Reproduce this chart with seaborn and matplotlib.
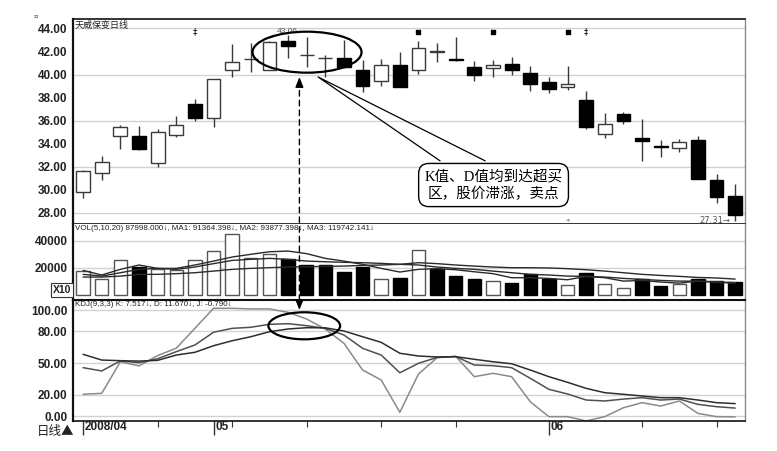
import numpy as np
import pandas as pd
import matplotlib
matplotlib.use("Agg")
import matplotlib.pyplot as plt
import seaborn as sns
from matplotlib.patches import Ellipse, ConnectionPatch
from matplotlib.transforms import blended_transform_factory

# ---- data (36 trading days, 2008/04 - 2008/06) ----
opens = [29.77, 31.42, 34.66, 34.66, 32.29, 34.77, 37.44, 36.20, 40.39, 41.33, 40.39, 42.94,
         41.68, 41.40, 41.41, 40.39, 39.46, 40.83, 40.39, 41.96, 41.34, 40.68, 40.54, 40.92,
         40.11, 39.35, 38.94, 37.79, 34.81, 36.57, 34.49, 33.76, 33.59, 34.31, 30.84, 29.47]
highs = [31.70, 32.92, 35.62, 35.53, 35.27, 36.40, 37.87, 39.65, 42.65, 42.77, 42.88, 43.40,
         43.29, 41.70, 43.00, 41.26, 41.32, 41.98, 42.94, 42.77, 43.24, 41.20, 41.26, 41.50,
         40.74, 39.76, 40.74, 38.60, 36.63, 36.77, 36.14, 34.31, 34.37, 34.66, 31.36, 30.49]
lows = [29.27, 30.84, 33.50, 33.45, 31.99, 34.57, 35.99, 35.44, 39.79, 40.25, 40.35, 41.41,
        40.68, 39.81, 40.60, 38.51, 39.03, 38.90, 40.05, 41.12, 41.20, 39.46, 39.76, 39.96,
        38.60, 38.37, 38.66, 35.24, 34.46, 35.70, 32.51, 32.81, 33.30, 30.90, 28.87, 27.31]
closes = [31.65, 32.38, 35.42, 33.50, 35.03, 35.59, 36.22, 39.61, 41.12, 41.37, 42.85, 42.50,
          41.72, 41.43, 40.68, 39.00, 40.83, 38.94, 42.28, 42.00, 41.28, 39.96, 40.83, 40.39,
          39.18, 38.77, 39.18, 35.47, 35.70, 35.96, 34.20, 33.70, 34.14, 30.95, 29.39, 27.80]

volumes = [17300, 11600, 25900, 20200, 19300, 18500, 25400, 32100, 44900, 27200, 30400, 26400,
           22200, 21700, 16500, 20500, 11900, 12400, 32800, 19000, 13600, 11600, 10400, 8700,
           15600, 11600, 6900, 16100, 8200, 5000, 11600, 6700, 8200, 11900, 9900, 9100]
vol_up = [1, 1, 1, 0, 1, 1, 1, 1, 1, 1, 1, 0, 0, 0, 0, 0, 1, 0,
          1, 0, 0, 0, 1, 0, 0, 0, 1, 0, 1, 1, 0, 0, 1, 0, 0, 0]
vol_ma5 = [18000, 14600, 18800, 22000, 19500, 19500, 22000, 24900, 27900, 29900, 31800, 32300,
           30400, 26900, 24900, 22500, 19500, 16800, 18800, 19300, 18500, 17000, 15600, 12600,
           12600, 12100, 11100, 13600, 12600, 10100, 10600, 9400, 8600, 10100, 9100, 8600]
vol_ma10 = [15100, 13800, 16300, 18800, 19500, 18800, 20500, 23000, 25400, 26200, 26900, 26200,
            24900, 24400, 24000, 23700, 23200, 22500, 22000, 20500, 19500, 18800, 17500, 16300,
            15100, 14600, 13800, 13600, 13100, 12100, 11400, 10600, 10100, 10100, 9600, 8900]
vol_ma20 = [13100, 13100, 13800, 15100, 15100, 15600, 16300, 17500, 18800, 19500, 20000, 20500,
            20700, 21000, 21200, 21700, 22000, 22500, 23700, 23000, 22000, 21200, 20500, 20000,
            20000, 19800, 19300, 18500, 17500, 16300, 15100, 14300, 13600, 12800, 12400, 11600]

k_vals = [45.6, 42.5, 52.0, 50.3, 54.0, 60.7, 67.0, 79.0, 82.7, 83.7, 86.5, 87.1,
          85.2, 82.7, 76.4, 63.9, 57.5, 40.8, 49.7, 55.3, 56.1, 48.1, 47.5, 45.6,
          35.6, 25.2, 20.8, 15.1, 14.2, 16.0, 17.3, 15.1, 16.0, 11.0, 8.8, 7.5]
d_vals = [58.2, 52.8, 52.2, 51.8, 52.5, 57.5, 60.1, 66.3, 71.0, 74.8, 79.5, 82.1,
          83.3, 83.2, 80.2, 74.8, 69.5, 59.2, 56.6, 55.7, 56.0, 53.5, 51.2, 49.3,
          43.4, 37.1, 31.8, 26.1, 22.0, 20.5, 18.9, 17.3, 17.3, 15.1, 12.6, 11.7]
j_vals = [20.5, 21.4, 51.2, 47.3, 57.0, 64.0, 82.7, 101.6, 101.6, 101.0, 101.0, 97.8,
          91.5, 82.0, 68.6, 43.4, 34.0, 3.5, 39.6, 55.0, 56.3, 37.1, 40.3, 37.1,
          13.5, -0.6, -0.6, -4.6, -0.6, 7.8, 12.6, 9.4, 14.2, 2.5, -0.6, -0.8]

month_ticks = [0, 7, 25]
month_labels = ["2008/04", "05", "06"]
minor_ticks = [4, 8, 12, 16, 20, 30, 34]

signal_sq = [18, 22, 26]
signal_dd = [6, 27]

title_txt = "天威保变日线"
vol_txt = "VOL(5,10,20) 87998.000↓, MA1: 91364.398↓, MA2: 93877.398↓, MA3: 119742.141↓"
kdj_txt = "KDJ(9,3,3) K: 7.517↓, D: 11.670↓, J: -0.790↓"
note_txt = "K值、D值均到达超买\n区，股价滞涨，卖点"

df = pd.DataFrame({"i": np.arange(len(opens)), "open": opens, "high": highs, "low": lows,
                   "close": closes, "vol": volumes, "up": vol_up,
                   "ma5": vol_ma5, "ma10": vol_ma10, "ma20": vol_ma20,
                   "K": k_vals, "D": d_vals, "J": j_vals})

sns.set_theme(style="white")
plt.rcParams["font.family"] = ["DejaVu Sans", "Noto Sans CJK SC"]
narrow = ["Liberation Sans Narrow", "Liberation Sans", "DejaVu Sans"]
cjk = ["Noto Sans CJK SC", "DejaVu Sans"]

fig = plt.figure(figsize=(7.77, 4.51), dpi=100)
L, W = 0.094, 0.8649
ax1 = fig.add_axes([L, 0.5027, W, 0.4541])
ax2 = fig.add_axes([L, 0.3359, W, 0.1668], sharex=ax1)
ax3 = fig.add_axes([L, 0.0665, W, 0.2694], sharex=ax1)

grid_c = "#d2d2d2"
for ax in (ax1, ax2, ax3):
    ax.set_facecolor("white")
    for s in ax.spines.values():
        s.set_color("#111111")
        s.set_linewidth(1.2)
    ax.spines["right"].set_color("#8a8a8a")
    ax.spines["right"].set_linewidth(1.0)
    ax.spines["left"].set_linewidth(1.6)
    ax.tick_params(axis="y", which="major", length=3, width=0.8, color="#222",
                   labelsize=8.5, labelcolor="#222", pad=1)
    ax.tick_params(axis="y", which="minor", length=2, width=0.6, color="#444")

# ---- price panel ----
for g in [28, 32, 36, 40, 44]:
    ax1.axhline(g, color=grid_c, lw=1, zorder=0)
up = df["close"] >= df["open"]
ax1.vlines(df["i"], df["low"], df["high"], color="#3a3a3a", lw=1, zorder=2)
body = (df["close"] - df["open"]).abs().clip(lower=0.04)
ax1.bar(df["i"][up], body[up], bottom=df[["open", "close"]].min(axis=1)[up], width=0.74,
        color="white", edgecolor="#3a3a3a", lw=1, zorder=3)
ax1.bar(df["i"][~up], body[~up], bottom=df[["open", "close"]].min(axis=1)[~up], width=0.74,
        color="black", edgecolor="black", lw=1, zorder=3)
ax1.set_ylim(26.99, 44.78)
ax1.set_yticks(np.arange(28, 44.1, 2))
ax1.set_yticklabels([f"{v:.2f}" for v in np.arange(28, 44.1, 2)], fontweight="bold",
                    family=narrow)
ax1.set_yticks(np.arange(27.5, 44.6, 0.5), minor=True)
ax1.tick_params(axis="x", which="both", bottom=False, labelbottom=False)
ax1.text(0.003, 0.992, title_txt, transform=ax1.transAxes, va="top", ha="left",
         fontsize=6.5, family=cjk, color="#222")
ax1.scatter(signal_sq, [43.7] * len(signal_sq), marker="s", s=7, color="black", zorder=4)
for s in signal_dd:
    ax1.text(s, 43.7, "‡", ha="center", va="center", fontsize=6, color="black")
ax1.annotate("43.06", xy=(10.0, 43.15), xytext=(10.4, 43.72), fontsize=6, color="#555",
             va="center", family=narrow,
             arrowprops=dict(arrowstyle="-", lw=0.6, color="#555", shrinkA=0, shrinkB=0))
ax1.text(34.75, 27.33, "27.31→", ha="right", va="center", fontsize=6, color="#555",
         family=["DejaVu Sans"], zorder=5)
ax1.text(26.0, 27.35, "◂", ha="center", va="center", fontsize=5, color="#999")

ax1.add_patch(Ellipse((12.02, 41.94), 5.85, 3.56, fill=False, ec="black", lw=1.6, zorder=6))
ax1.plot([19.16, 12.61, 21.58], [32.5, 39.79, 32.5], color="black", lw=0.9, zorder=5)
ax1.text(22.03, 30.40, note_txt, ha="center", va="center", fontsize=10.5, linespacing=1.3,
         family=["Liberation Serif", "Noto Sans CJK SC"], color="black", zorder=7,
         bbox=dict(boxstyle="round,pad=0.4,rounding_size=0.7", fc="white", ec="black", lw=1))

# ---- volume panel ----
for g in [20000, 40000]:
    ax2.axhline(g, color=grid_c, lw=1, zorder=0)
vu = df["up"] == 1
ax2.bar(df["i"][vu], df["vol"][vu], width=0.72, color="white", edgecolor="#555", lw=1,
        zorder=2)
ax2.bar(df["i"][~vu], df["vol"][~vu], width=0.72, color="black", edgecolor="black", lw=1,
        zorder=2)
for col in ["ma20", "ma10", "ma5"]:
    sns.lineplot(data=df, x="i", y=col, ax=ax2, color="#2a2a2a", linewidth=1, zorder=3,
                 legend=False)
ax2.set_ylim(-3500, 52100)
ax2.set_yticks([20000, 40000])
ax2.set_yticklabels(["20000", "40000"], fontweight="bold", family=narrow)
ax2.set_xlabel("")
ax2.set_ylabel("")
ax2.tick_params(axis="x", which="both", bottom=False, labelbottom=False)
ax2.spines["top"].set_visible(False)
ax2.text(0.003, 0.99, vol_txt, transform=ax2.transAxes, va="top", ha="left",
         fontsize=5.8, family=narrow, color="#222")

# ---- KDJ panel ----
for g in [0, 20, 50, 80, 100]:
    ax3.axhline(g, color=grid_c, lw=1, zorder=0)
sns.lineplot(data=df, x="i", y="J", ax=ax3, color="#8a8a8a", linewidth=1.1, legend=False)
sns.lineplot(data=df, x="i", y="K", ax=ax3, color="#505050", linewidth=1.1, legend=False)
sns.lineplot(data=df, x="i", y="D", ax=ax3, color="#2e2e2e", linewidth=1.1, legend=False)
ax3.set_ylim(-4.7, 109.9)
ax3.set_yticks([0, 20, 50, 80, 100])
ax3.set_yticklabels(["0.00", "20.00", "50.00", "80.00", "100.00"], fontweight="bold",
                    family=narrow)
ax3.set_xlabel("")
ax3.set_ylabel("")
ax3.spines["top"].set_linewidth(1.5)
ax3.add_patch(Ellipse((11.87, 85.1), 3.85, 25.5, fill=False, ec="black", lw=1.6, zorder=6))
ax3.text(0.003, 0.985, kdj_txt, transform=ax3.transAxes, va="top", ha="left",
         fontsize=5.8, family=narrow, color="#222")

ax3.set_xlim(-0.54, 35.53)
ax3.set_xticks(month_ticks)
ax3.set_xticks(minor_ticks, minor=True)
ax3.tick_params(axis="x", which="major", bottom=True, length=10, width=1, color="#333",
                labelbottom=False)
ax3.tick_params(axis="x", which="minor", bottom=True, length=4, width=0.8, color="#333")
tr = blended_transform_factory(ax3.transData, ax3.transAxes)
for t, lab in zip(month_ticks, month_labels):
    ax3.text(t + 0.1, -0.05, lab, transform=tr, ha="left", va="center", fontsize=8.5,
             fontweight="bold", family=narrow, color="#222")

# dashed link across the panels
con = ConnectionPatch(xyA=(11.61, 39.45), coordsA=ax1.transData,
                      xyB=(11.61, 103.0), coordsB=ax3.transData,
                      linestyle=(0, (4, 3)), color="black", lw=1)
fig.add_artist(con)
ax1.annotate("", xy=(11.61, 39.78), xytext=(11.61, 39.2),
             arrowprops=dict(arrowstyle="-|>,head_length=0.5,head_width=0.2", color="black",
                             lw=1, shrinkA=0, shrinkB=0))
ax3.annotate("", xy=(11.61, 100.0), xytext=(11.61, 107.5),
             arrowprops=dict(arrowstyle="-|>,head_length=0.5,head_width=0.2", color="black",
                             lw=1, shrinkA=0, shrinkB=0))

fig.text(0.047, 0.043, "日线▲", ha="left", va="center", fontsize=9, family=cjk, color="#222")
fig.text(0.0915, 0.357, "X10", ha="right", va="center", fontsize=7.5, fontweight="bold",
         family=narrow, color="#222",
         bbox=dict(boxstyle="square,pad=0.15", fc="white", ec="#333", lw=0.8))
fig.text(0.046, 0.962, "¤", ha="center", va="center", fontsize=5, color="#444")

fig.savefig("out.png", dpi=100)
